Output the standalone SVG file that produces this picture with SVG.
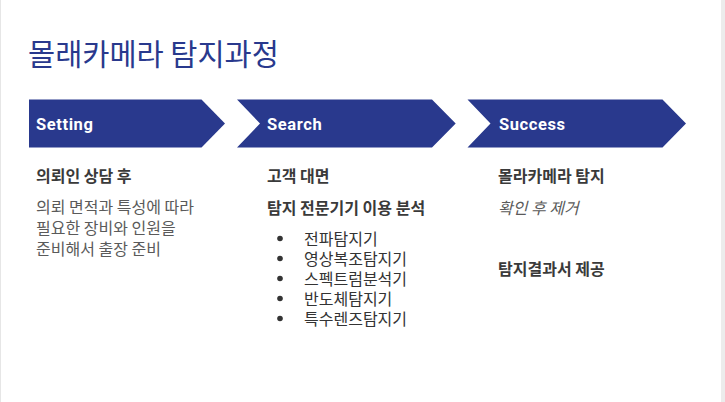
<svg xmlns="http://www.w3.org/2000/svg" width="725" height="402" viewBox="0 0 725 402">
<style>
.chev{fill:#29398d;}
.lab{font-family:Roboto,"Liberation Sans",sans-serif;font-weight:bold;font-size:16.5px;letter-spacing:0.6px;fill:#ffffff;}
.kr{font-family:"Noto Sans CJK KR","Noto Sans",sans-serif;font-size:16px;}
.hd{font-weight:bold;fill:#3a3a3a;}
.bd{fill:#5a5a5a;}
.it{fill:#333333;}
.em{font-style:italic;fill:#5a5a5a;}
.title{font-family:"Noto Sans CJK KR","Noto Sans",sans-serif;font-size:29.5px;fill:#29398d;}
</style>
<rect x="0" y="0" width="725" height="402" fill="#ffffff"/>
<rect x="0" y="0" width="1" height="402" fill="#e6e6e6"/>
<rect x="721" y="0" width="4" height="402" fill="#ececec"/>
<text class="title" x="28" y="65">몰래카메라 탐지과정</text>
<g id="setting">
<polygon class="chev" points="29,99.5 201.5,99.5 225,123.5 201.5,147.5 29,147.5"/>
<text class="lab" x="36" y="129.5">Setting</text>
<text class="kr hd" x="36" y="182">의뢰인 상담 후</text>
<text class="kr bd" x="36" y="212.5">의뢰 면적과 특성에 따라</text>
<text class="kr bd" x="36" y="233.5">필요한 장비와 인원을</text>
<text class="kr bd" x="36" y="254.5">준비해서 출장 준비</text>
</g>
<g id="search">
<polygon class="chev" points="237,99.5 432,99.5 455.7,123.5 432,147.5 237,147.5 260,123.5"/>
<text class="lab" x="267" y="129.5">Search</text>
<text class="kr hd" x="267" y="182">고객 대면</text>
<text class="kr hd" x="267" y="213.5">탐지 전문기기 이용 분석</text>
<circle cx="280" cy="238.5" r="2.8" fill="#333"/>
<circle cx="280" cy="258.5" r="2.8" fill="#333"/>
<circle cx="280" cy="278.5" r="2.8" fill="#333"/>
<circle cx="280" cy="298.5" r="2.8" fill="#333"/>
<circle cx="280" cy="318.5" r="2.8" fill="#333"/>
<text class="kr it" x="304" y="244.5">전파탐지기</text>
<text class="kr it" x="304" y="264.5">영상복조탐지기</text>
<text class="kr it" x="304" y="284.5">스펙트럼분석기</text>
<text class="kr it" x="304" y="304.5">반도체탐지기</text>
<text class="kr it" x="304" y="324.5">특수렌즈탐지기</text>
</g>
<g id="success">
<polygon class="chev" points="467.5,99.5 662.5,99.5 686,123.5 662.5,147.5 467.5,147.5 490.5,123.5"/>
<text class="lab" x="499" y="129.5">Success</text>
<text class="kr hd" x="498" y="182">몰라카메라 탐지</text>
<text class="kr em" x="498" y="213.5">확인 후 제거</text>
<text class="kr hd" x="498" y="274.5">탐지결과서 제공</text>
</g>
<g id="connectors"></g>
</svg>
